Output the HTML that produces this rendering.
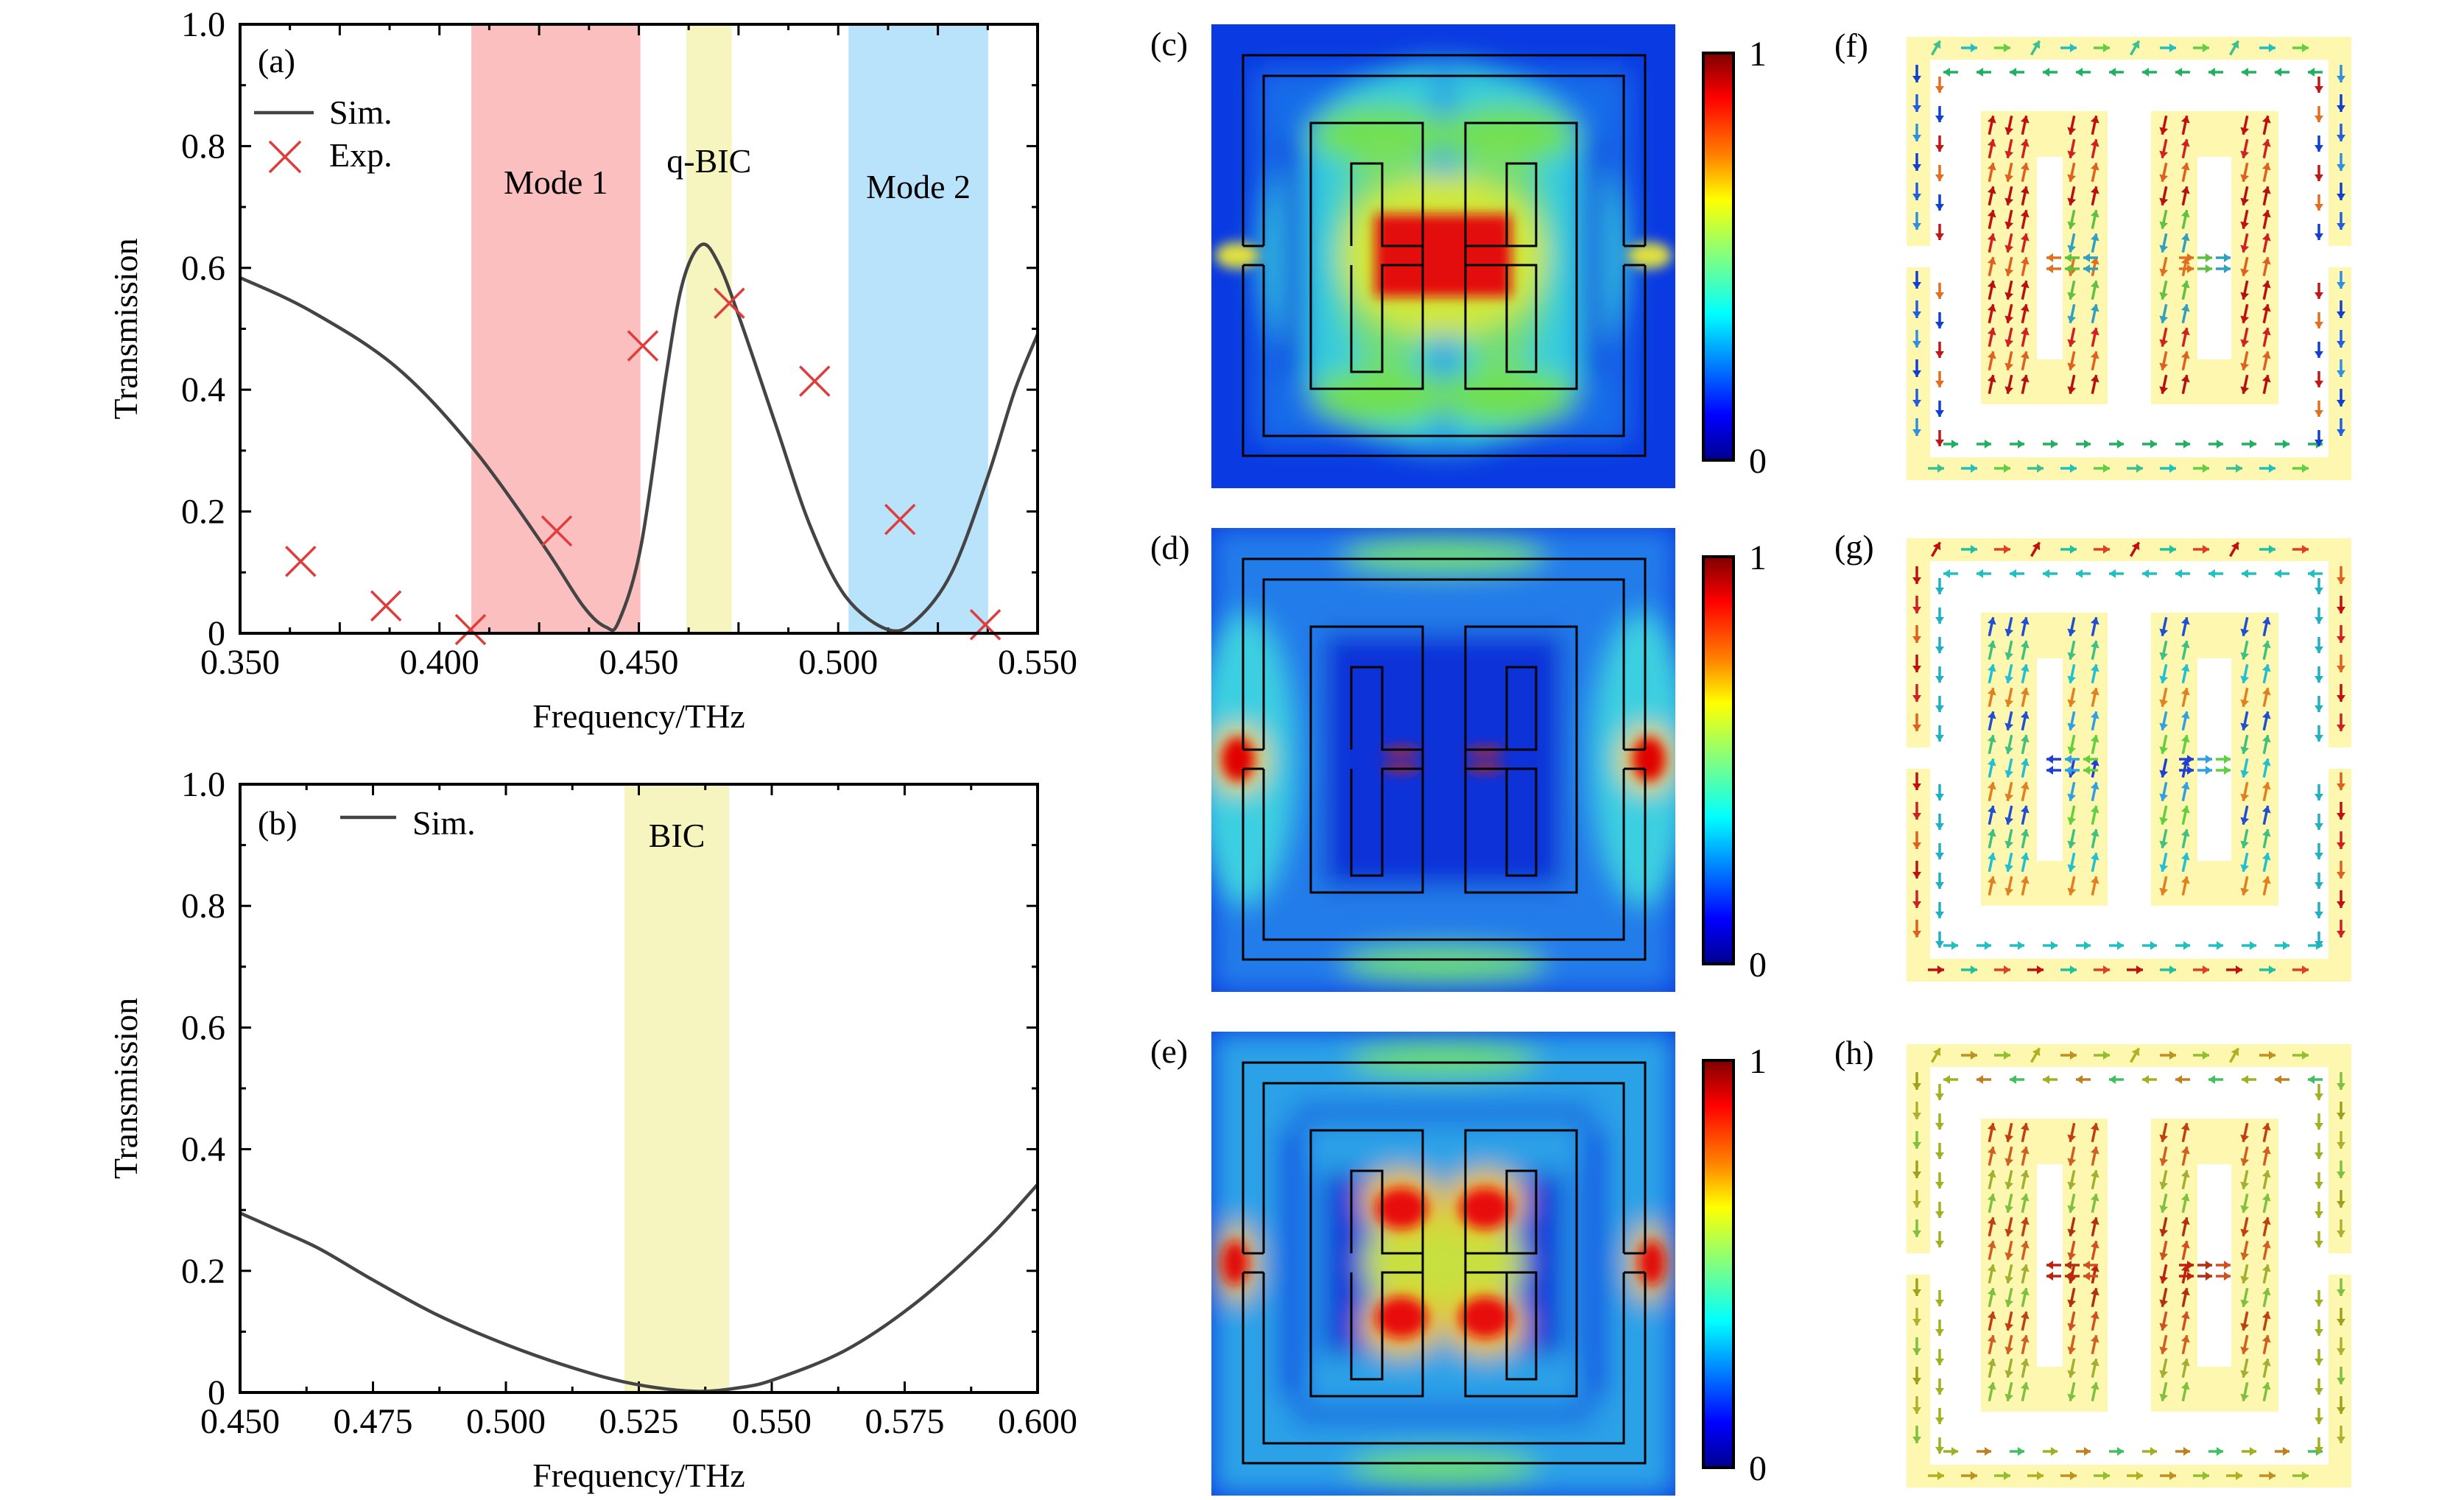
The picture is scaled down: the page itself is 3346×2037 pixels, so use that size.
<!DOCTYPE html>
<html><head><meta charset="utf-8"><title>Transmission spectra and field maps</title>
<style>html,body{margin:0;padding:0;background:#fff}svg{display:block}text{font-family:"Liberation Serif",serif;fill:#000}</style></head>
<body>
<svg id="fig" width="3346" height="2037" viewBox="0 0 3346 2037" xmlns="http://www.w3.org/2000/svg">
<defs>
<linearGradient id="jet" x1="0" y1="0" x2="0" y2="1">
<stop offset="0" stop-color="#7f0000"/><stop offset="0.11" stop-color="#ff0000"/><stop offset="0.25" stop-color="#ff8000"/><stop offset="0.36" stop-color="#ffff00"/><stop offset="0.5" stop-color="#80ff80"/><stop offset="0.64" stop-color="#00ffff"/><stop offset="0.89" stop-color="#0000ff"/><stop offset="1" stop-color="#00008f"/>
</linearGradient>
<filter id="b18" x="-20%" y="-20%" width="140%" height="140%"><feGaussianBlur stdDeviation="18"/></filter>
<filter id="b8" x="-20%" y="-20%" width="140%" height="140%"><feGaussianBlur stdDeviation="8"/></filter>
<clipPath id="hmclip"><rect x="0" y="0" width="630" height="630"/></clipPath>
</defs>
<g id="root"></g>
</svg>
<script>
// ---------- data: panel (a) ----------
const aFreq=[0.350,0.3675,0.389,0.408,0.426,0.436,0.4418,0.445,0.4506,0.4568,0.461,0.4657,0.470,0.4754,0.4842,0.493,0.5019,0.5125,0.5196,0.5284,0.5373,0.5443,0.550];
const aSim=[0.584,0.530,0.438,0.307,0.145,0.045,0.010,0.020,0.145,0.422,0.576,0.638,0.607,0.515,0.345,0.176,0.060,0.006,0.022,0.099,0.253,0.399,0.491];
const expFreq=[0.3652,0.3866,0.4078,0.4294,0.451,0.4727,0.4941,0.5155,0.5369];
const expT=[0.118,0.045,0.006,0.168,0.472,0.542,0.414,0.187,0.014];
const aBandNames=["Mode 1","q-BIC","Mode 2"];
const aBandStart=[0.408,0.4619,0.5026];
const aBandEnd=[0.4504,0.4733,0.5376];
const aBandColors=["#fbbfbf","#f7f5bf","#b8e3fb"];
const aXTickLabels=["0.350","0.400","0.450","0.500","0.550"];
const yTickLabels=["0","0.2","0.4","0.6","0.8","1.0"];
// ---------- data: panel (b) ----------
const bFreq=[0.450,0.4575,0.465,0.475,0.487,0.5003,0.5135,0.5241,0.5354,0.544,0.5507,0.564,0.5772,0.5905,0.600];
const bSim=[0.295,0.266,0.236,0.185,0.128,0.078,0.038,0.014,0.002,0.008,0.022,0.070,0.148,0.252,0.342];
const bBandStart=[0.5223];
const bBandEnd=[0.542];
const bXTickLabels=["0.450","0.475","0.500","0.525","0.550","0.575","0.600"];

const NS="http://www.w3.org/2000/svg";
const root=document.getElementById('root');
function mk(tag,attrs,parent){const e=document.createElementNS(NS,tag);for(const k in attrs)e.setAttribute(k,attrs[k]);(parent||root).appendChild(e);return e;}
function txt(s,x,y,size,anchor,parent){const t=mk('text',{x:x,y:y,'font-size':size,'text-anchor':anchor||'start'},parent);t.textContent=s;return t;}

function smoothPath(pts){
  let d='M'+pts[0][0].toFixed(1)+','+pts[0][1].toFixed(1);
  for(let i=0;i<pts.length-1;i++){
    const p0=pts[Math.max(0,i-1)],p1=pts[i],p2=pts[i+1],p3=pts[Math.min(pts.length-1,i+2)];
    const c1x=p1[0]+(p2[0]-p0[0])/6,c1y=p1[1]+(p2[1]-p0[1])/6;
    const c2x=p2[0]-(p3[0]-p1[0])/6,c2y=p2[1]-(p3[1]-p1[1])/6;
    d+=' C'+c1x.toFixed(1)+','+c1y.toFixed(1)+' '+c2x.toFixed(1)+','+c2y.toFixed(1)+' '+p2[0].toFixed(1)+','+p2[1].toFixed(1);
  }
  return d;
}

function makeAxes(cfg){
  const g=mk('g',{});
  
  
  const L=326,R=1409,T=cfg.top,B=cfg.bottom;
  const sx=v=>L+(v-cfg.x0)/(cfg.x1-cfg.x0)*(R-L);
  const sy=v=>B-v*(B-T);
  cfg.bandStart.forEach((s,i)=>{
    const r=mk('rect',{x:sx(s),y:T,width:sx(cfg.bandEnd[i])-sx(s),height:B-T,fill:cfg.bandColors[i]},g);
    
    
  });
  const tg=mk('g',{stroke:'#000','stroke-width':3},g);
  
  
  const nx=Math.round((cfg.x1-cfg.x0)/0.0125);
  for(let i=1;i<nx;i++){const v=cfg.x0+i*0.0125;const x=sx(v);const len=(i%2===0)?15:8;
    mk('line',{x1:x,y1:B,x2:x,y2:B-len},tg);mk('line',{x1:x,y1:T,x2:x,y2:T+len},tg);}
  for(let i=1;i<10;i++){const y=sy(i/10);const len=(i%2===0)?15:8;
    mk('line',{x1:L,y1:y,x2:L+len,y2:y},tg);mk('line',{x1:R,y1:y,x2:R-len,y2:y},tg);}
  const pts=cfg.xs.map((v,i)=>[sx(v),sy(cfg.ys[i])]);
  const c=mk('path',{d:smoothPath(pts),fill:'none',stroke:'#444','stroke-width':4.5},g);
  
  
  if(cfg.ex){
    const eg=mk('g',{stroke:'#e03c3c','stroke-width':3.5},g);
    
    
    cfg.ex.forEach((v,i)=>{const x=sx(v),y=sy(cfg.ey[i]),h=20;
      const m=mk('path',{d:`M${x-h},${y-h}L${x+h},${y+h}M${x-h},${y+h}L${x+h},${y-h}`},eg);
      
      });
  }
  const f=mk('rect',{x:L,y:T,width:R-L,height:B-T,fill:'none',stroke:'#000','stroke-width':4},g);
  
  
  cfg.xLabels.forEach((s,i)=>{const v=cfg.x0+i*(cfg.x1-cfg.x0)/(cfg.xLabels.length-1);
    const t=txt(s,sx(v),B+55,48,'middle',g);
    
    });
  yTickLabels.forEach((s,i)=>{const t=txt(s,306,sy(i*0.2)+16,48,'end',g);
    
    });
  const xt=txt('Frequency/THz',(L+R)/2,B+128,46,'middle',g);
  
  
  const yt=txt('Transmission',0,0,46,'middle',g);
  yt.setAttribute('transform',`translate(186,${(T+B)/2}) rotate(-90)`);
  
  
  return {g,sx,sy,T,B};
}

const A=makeAxes({name:'chart-a',top:33,bottom:860,x0:0.35,x1:0.55,xs:aFreq,ys:aSim,ex:expFreq,ey:expT,
  bandStart:aBandStart,bandEnd:aBandEnd,bandColors:aBandColors,bandNames:aBandNames,xLabels:aXTickLabels});
let t;
t=txt('(a)',350,98,46,'start',A.g);
aBandNames.forEach((n,i)=>{const yy=[263,234,269][i];const x=(A.sx(aBandStart[i])+A.sx(aBandEnd[i]))/2;
  const tt=txt(n,x,yy,46,'middle',A.g);});
const lg=mk('g',{},A.g);
mk('line',{x1:345,y1:153,x2:426,y2:153,stroke:'#444','stroke-width':4.5},lg);
t=txt('Sim.',447,168,46,'start',lg);
mk('path',{d:'M366,192L408,234M366,234L408,192',stroke:'#e03c3c','stroke-width':3.5},lg);
t=txt('Exp.',447,226,46,'start',lg);

const Bp=makeAxes({name:'chart-b',top:1065,bottom:1891,x0:0.45,x1:0.60,xs:bFreq,ys:bSim,
  bandStart:bBandStart,bandEnd:bBandEnd,bandColors:["#f7f5bf"],bandNames:["BIC"],xLabels:bXTickLabels});
t=txt('(b)',350,1133,46,'start',Bp.g);
mk('line',{x1:462,y1:1110,x2:538,y2:1110,stroke:'#444','stroke-width':4.5},Bp.g);
t=txt('Sim.',560,1133,46,'start',Bp.g);
t=txt('BIC',(Bp.sx(bBandStart[0])+Bp.sx(bBandEnd[0]))/2,1150,46,'middle',Bp.g);

// ---------- heatmaps ----------
function heatmap(ox,oy,label,kind){
  const g=mk('g',{transform:`translate(${ox},${oy})`});
  
  
  const cl=mk('g',{'clip-path':'url(#hmclip)'},g);
  mk('rect',{x:0,y:0,width:630,height:630,fill:'#0a3ae2'},cl);
  const bl=mk('g',{filter:'url(#b18)'},cl);
  const sharp=mk('g',{filter:'url(#b8)'},cl);
  const E=(p,cx,cy,rx,ry,f,o)=>mk('ellipse',{cx,cy,rx,ry,fill:f,opacity:o==null?1:o},p);
  const R=(p,x,y,w,h,f,o)=>mk('rect',{x,y,width:w,height:h,fill:f,opacity:o==null?1:o},p);
  if(kind==='c'){
    R(bl,60,60,510,510,'#1a80ec',0.7);
    E(bl,315,315,250,265,'#38d6dc',0.9);
    R(bl,95,150,32,330,'#0a34e0');R(bl,503,150,32,330,'#0a34e0');
    R(bl,305,60,20,190,'#1a70ea',0.8);R(bl,305,380,20,190,'#1a70ea',0.8);
    E(bl,230,150,95,40,'#70e050');E(bl,400,150,95,40,'#70e050');
    E(bl,230,505,95,40,'#70e050');E(bl,400,505,95,40,'#70e050');
    E(bl,240,315,70,160,'#80e060',0.8);E(bl,390,315,70,160,'#80e060',0.8);
    E(bl,315,314,140,110,'#d0e838');
    R(sharp,222,258,185,112,'#e41010');
    E(sharp,35,314,30,18,'#e0e040');E(sharp,595,314,30,18,'#e0e040');
  } else if(kind==='d'){
    R(bl,0,0,630,630,'#30a8f0',0.6);
    R(bl,150,140,330,350,'#0a30d8');
    E(bl,45,314,70,200,'#40d8e0',0.9);E(bl,585,314,70,200,'#40d8e0',0.9);
    E(bl,315,38,140,24,'#70e070');E(bl,315,592,140,24,'#70e070');
    E(bl,38,314,38,45,'#f0d020');E(bl,592,314,38,45,'#f0d020');
    E(sharp,36,314,22,30,'#e00000');E(sharp,594,314,22,30,'#e00000');
    E(sharp,258,303,26,5,'#e02010');E(sharp,258,326,26,5,'#e02010');
    E(sharp,372,303,26,5,'#e02010');E(sharp,372,326,26,5,'#e02010');
  } else {
    R(bl,0,0,630,630,'#36c4ea',0.75);
    R(bl,92,130,35,370,'#0a3ae2');R(bl,503,130,35,370,'#0a3ae2');
    R(bl,150,190,60,250,'#0a30d8');R(bl,420,190,60,250,'#0a30d8');
    R(bl,110,95,410,30,'#1050e0',0.8);R(bl,110,505,410,30,'#1050e0',0.8);
    E(bl,315,38,130,22,'#70e060');E(bl,315,592,130,22,'#70e060');
    E(bl,315,314,110,70,'#c8e040');
    E(bl,258,230,55,45,'#f0c020');E(bl,372,230,55,45,'#f0c020');
    E(bl,258,398,55,45,'#f0c020');E(bl,372,398,55,45,'#f0c020');
    E(sharp,258,240,35,28,'#e81010');E(sharp,372,240,35,28,'#e81010');
    E(sharp,258,388,35,28,'#e81010');E(sharp,372,388,35,28,'#e81010');
    E(bl,35,314,28,55,'#f0c020');E(bl,595,314,28,55,'#f0c020');
    E(sharp,32,314,18,30,'#e01010');E(sharp,598,314,18,30,'#e01010');
  }
  const s=mk('g',{fill:'none',stroke:'#000','stroke-width':3},g);
  
  
  mk('path',{d:'M43,301V42H589V301M43,327V586H589V327M71,301V70H560V301M71,327V559H560V327M43,301H71M43,327H71M560,301H589M560,327H589'},s);
  mk('rect',{x:135,y:134,width:152,height:361},s);mk('rect',{x:345,y:134,width:151,height:361},s);
  mk('path',{d:'M190,301V189H232V301H287M190,327V472H232V327H287M401,301V189H441V301H345M401,327V472H441V327H345'},s);
  const cb=mk('rect',{x:668,y:39,width:41,height:553,fill:'url(#jet)',stroke:'#000','stroke-width':4},g);
  
  
  let tt=txt('1',742,56,48,'middle',g);
  tt=txt('0',742,609,48,'middle',g);
  tt=txt('('+label+')',-83,42,46,'start',g);
}
heatmap(1645,33,'c','c');
heatmap(1645,717,'d','d');
heatmap(1645,1401,'e','e');

// ---------- current arrow maps ----------
function arrow(p,x,y,ang,len,col){
  const a=ang*Math.PI/180,dx=Math.cos(a),dy=Math.sin(a);
  const x1=x-dx*len/2,y1=y-dy*len/2,x2=x+dx*len/2,y2=y+dy*len/2;
  mk('line',{x1,y1,x2,y2,stroke:col,'stroke-width':3.5},p);
  const hx=x2-dx*9,hy=y2-dy*9;
  mk('polygon',{points:`${x2},${y2} ${hx-dy*6},${hy+dx*6} ${hx+dy*6},${hy-dx*6}`,fill:col},p);
}
function currentMap(ox,oy,label,pal){
  const g=mk('g',{transform:`translate(${ox},${oy})`});
  
  
  const Y='#fdf7b0';
  const sh=mk('g',{fill:Y},g);
  
  
  mk('rect',{x:0,y:0,width:604,height:31},sh);mk('rect',{x:0,y:571,width:604,height:31},sh);
  mk('rect',{x:0,y:0,width:32,height:284},sh);mk('rect',{x:0,y:313,width:32,height:289},sh);
  mk('rect',{x:573,y:0,width:31,height:284},sh);mk('rect',{x:573,y:313,width:31,height:289},sh);
  mk('path',{d:'M101,101H273V499H101Z M177,163V438H212V163Z','fill-rule':'evenodd'},sh);
  mk('path',{d:'M332,101H505V499H332Z M395,163V438H441V163Z','fill-rule':'evenodd'},sh);
  const ag=mk('g',{},g);
  
  
  let k=0;
  const pick=(arr)=>arr[(k++)%arr.length];
  for(let x=40;x<=560;x+=45){arrow(ag,x,15,(k%3===0)?-60:(k%2?180:0),22,pick(pal.outerH));arrow(ag,x+20,48,(k%2?180:0),20,pick(pal.outerH2));}
  for(let x=40;x<=560;x+=45){arrow(ag,x,586,(k%2?180:0),22,pick(pal.outerH));arrow(ag,x+20,553,(k%2?0:180),20,pick(pal.outerH2));}
  for(let y=50;y<=560;y+=40){if(y>270&&y<330)continue;
    arrow(ag,14,y,90,24,pick(pal.outerV));arrow(ag,45,y+15,90,22,pick(pal.outerV2));
    arrow(ag,590,y,90,24,pick(pal.outerV));arrow(ag,560,y+15,90,22,pick(pal.outerV2));}
  [115,140,160,225,255,350,378,460,488].forEach((x,ci)=>{
    for(let y=120;y<=480;y+=32){
      const ang=(ci%2===0)?-90:90;
      const inner=(y>230&&y<400&&(ci===3||ci===4||ci===5||ci===6));
      arrow(ag,x,y,ang+((y/32)%2?12:-12),26,pick(inner?pal.slot:pal.inner));
    }});
  [300,315].forEach(y=>{[200,225,250,380,405,430].forEach(x=>arrow(ag,x,y,(x<315)?180:0,20,pick(pal.slot)));});
  const tt=txt('('+label+')',-98,27,46,'start',g);
}
currentMap(2589,50,'f',{outerH:['#3cc090','#60d040','#20c0c0'],outerH2:['#c01010','#20b060'],outerV:['#1040d0','#2060e0','#3090e0'],outerV2:['#c01818','#e07020','#1040d0'],inner:['#c01010','#d02020','#e06020','#b81010'],slot:['#e07020','#60c040','#30a0c0']});
currentMap(2589,731,'g',{outerH:['#c01010','#e04020','#20c0a0'],outerH2:['#c01010','#20c0c0'],outerV:['#c01010','#d02020','#e06020'],outerV2:['#c01010','#20b0c0'],inner:['#2050d0','#40c080','#20c0d0','#e08020'],slot:['#2040d0','#30a0e0','#60d040']});
currentMap(2589,1418,'h',{outerH:['#b0b020','#90c030','#c09020'],outerH2:['#c08020','#a0b020','#40c060'],outerV:['#a0a020','#b0b030','#80c040'],outerV2:['#b08020','#a0b020'],inner:['#c04010','#d06020','#a0b030','#80c040'],slot:['#c02010','#b03010','#d05020']});
</script>
</body></html>
